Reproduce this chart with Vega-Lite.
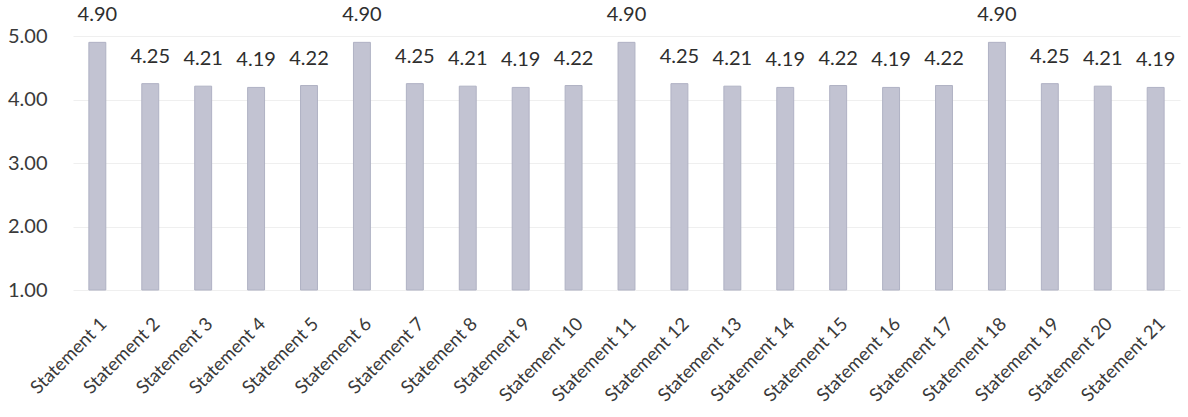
{
  "$schema": "https://vega.github.io/schema/vega-lite/v6.json",
  "width": 1107,
  "height": 254,
  "autosize": {"type": "none"},
  "padding": {"left": 73, "top": 36, "right": 8, "bottom": 127},
  "background": "white",
  "config": {
    "view": {"stroke": null},
    "font": "Lato",
    "axis": {"labelFont": "Lato", "labelColor": "#3a3a3a", "labelFontSize": 20}
  },
  "data": {
    "values": [
      {"statement": "Statement 1", "value": 4.90},
      {"statement": "Statement 2", "value": 4.25},
      {"statement": "Statement 3", "value": 4.21},
      {"statement": "Statement 4", "value": 4.19},
      {"statement": "Statement 5", "value": 4.22},
      {"statement": "Statement 6", "value": 4.90},
      {"statement": "Statement 7", "value": 4.25},
      {"statement": "Statement 8", "value": 4.21},
      {"statement": "Statement 9", "value": 4.19},
      {"statement": "Statement 10", "value": 4.22},
      {"statement": "Statement 11", "value": 4.90},
      {"statement": "Statement 12", "value": 4.25},
      {"statement": "Statement 13", "value": 4.21},
      {"statement": "Statement 14", "value": 4.19},
      {"statement": "Statement 15", "value": 4.22},
      {"statement": "Statement 16", "value": 4.19},
      {"statement": "Statement 17", "value": 4.22},
      {"statement": "Statement 18", "value": 4.90},
      {"statement": "Statement 19", "value": 4.25},
      {"statement": "Statement 20", "value": 4.21},
      {"statement": "Statement 21", "value": 4.19}
    ]
  },
  "encoding": {
    "x": {
      "field": "statement",
      "type": "nominal",
      "sort": null,
      "scale": {"paddingInner": 0.68, "paddingOuter": 0.3},
      "axis": {
        "title": null,
        "labelAngle": -45,
        "domain": false,
        "ticks": false,
        "labelPadding": 24,
        "labelFontSize": 18.5
      }
    }
  },
  "layer": [
    {
      "mark": {"type": "bar", "color": "#c2c3d2", "stroke": "#b0b2c4", "strokeWidth": 1},
      "encoding": {
        "y": {
          "field": "value",
          "type": "quantitative",
          "scale": {"domain": [1, 5], "zero": false, "nice": false},
          "axis": {
            "title": null,
            "values": [1, 2, 3, 4, 5],
            "format": ".2f",
            "domain": false,
            "ticks": false,
            "labelPadding": 26,
            "gridColor": "#efefef",
            "gridWidth": 1
          }
        },
        "y2": {"datum": 1}
      }
    },
    {
      "mark": {"type": "text", "baseline": "bottom", "dy": -17, "fontSize": 20, "color": "#2e2e2e", "font": "Lato"},
      "encoding": {
        "y": {"field": "value", "type": "quantitative"},
        "text": {"field": "value", "type": "quantitative", "format": ".2f"}
      }
    }
  ]
}
